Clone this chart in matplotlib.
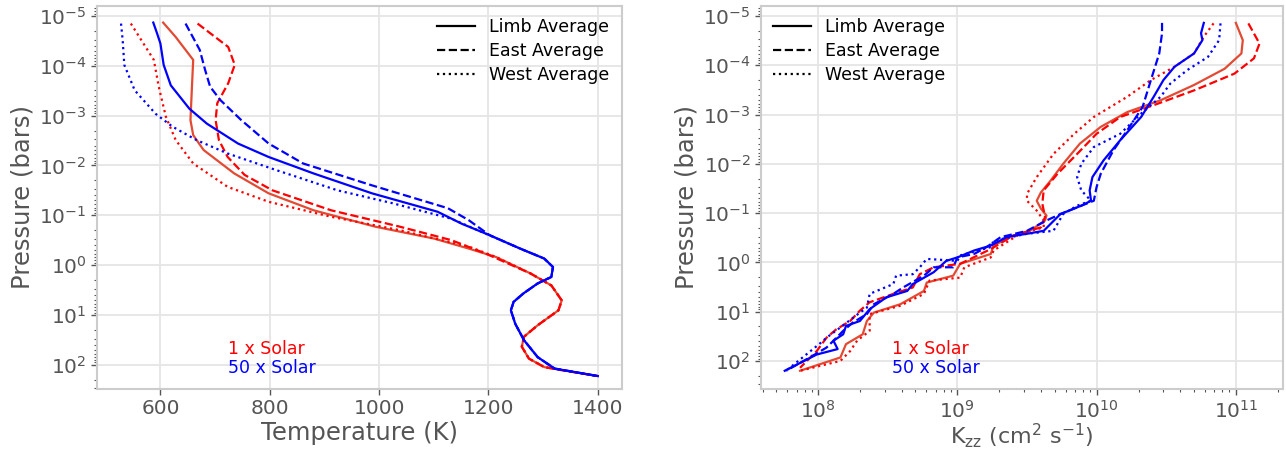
import numpy as np
import matplotlib
matplotlib.use("Agg")
from matplotlib import pyplot as plt
from matplotlib.lines import Line2D

###################################################################################################
# Data, pressures as log10(bar)
###################################################################################################
# --- temperature profiles ---
# deep parts are shared by limb / east / west
t1_deep = [1214, 1277, 1315, 1334, 1328, 1290, 1265, 1261, 1274, 1302, 1328, 1400]
p1_deep = [-0.16, 0.17, 0.41, 0.71, 0.91, 1.21, 1.44, 1.64, 1.88, 2.05, 2.10, 2.23]
t50_deep = [1202, 1258, 1302, 1318, 1315, 1290, 1264, 1246, 1241, 1249, 1265, 1290, 1321, 1400]
p50_deep = [-0.60, -0.33, -0.13, 0.04, 0.24, 0.37, 0.57, 0.74, 0.91, 1.18, 1.51, 1.85, 2.08, 2.23]

t1_limb = [605, 628, 660, 658, 655, 660, 679, 735, 798, 880, 993, 1101, 1164]
p1_limb = [-4.87, -4.58, -4.12, -3.65, -2.91, -2.61, -2.31, -1.84, -1.44, -1.10, -0.77, -0.53, -0.33]
t1_east = [668, 724, 736, 724, 704, 701, 707, 723, 754, 805, 912, 1038, 1132, 1195]
p1_east = [-4.85, -4.38, -4.02, -3.65, -3.25, -2.91, -2.51, -2.17, -1.81, -1.50, -1.10, -0.77, -0.50, -0.23]
t1_west = [546, 569, 588, 597, 610, 628, 660, 723, 798, 912, 1038, 1164]
p1_west = [-4.85, -4.45, -4.12, -3.58, -2.98, -2.51, -2.04, -1.57, -1.27, -0.97, -0.70, -0.37]

t50_limb = [587, 594, 600, 606, 619, 653, 685, 742, 798, 880, 987, 1107, 1151]
p50_limb = [-4.87, -4.65, -4.45, -4.02, -3.61, -3.14, -2.84, -2.44, -2.17, -1.84, -1.44, -1.07, -0.83]
t50_east = [646, 672, 682, 691, 710, 748, 798, 861, 987, 1126, 1164]
p50_east = [-4.85, -4.32, -3.91, -3.58, -3.31, -2.91, -2.44, -2.04, -1.60, -1.14, -0.90]
t50_west = [528, 531, 534, 553, 591, 622, 666, 723, 811, 924, 1025, 1132]
p50_west = [-4.85, -4.52, -4.02, -3.51, -3.04, -2.78, -2.51, -2.24, -1.91, -1.50, -1.24, -0.93]

# --- Kzz profiles, log10(cm2/s) ---
k1_limb = [11.00, 11.05, 11.04, 10.92, 10.70, 10.46, 10.22, 10.03, 9.88, 9.76, 9.67, 9.60, 9.57, 9.60,
           9.64, 9.63, 9.52, 9.40, 9.26, 9.24, 9.02, 8.97, 8.78, 8.76, 8.59, 8.40, 8.35, 8.32, 8.20, 8.16, 7.87]
kp1_limb = [-4.86, -4.51, -4.24, -3.93, -3.60, -3.29, -3.05, -2.75, -2.41, -2.00, -1.66, -1.42, -1.25, -1.09,
            -0.95, -0.85, -0.64, -0.54, -0.34, -0.17, 0.03, 0.27, 0.41, 0.58, 0.85, 1.02, 1.19, 1.46, 1.66, 1.93, 2.20]
k1_east = [11.09, 11.17, 11.13, 10.99, 10.70, 10.41, 10.17, 10.00, 9.86, 9.72, 9.62, 9.61, 9.63, 9.60,
           9.40, 9.24, 9.02, 8.83, 8.73, 8.68, 8.54, 8.37, 8.30, 8.23, 8.13, 8.06, 7.99, 7.87]
kp1_east = [-4.85, -4.44, -4.14, -3.83, -3.49, -3.19, -2.95, -2.61, -2.20, -1.80, -1.46, -1.19, -0.92, -0.71,
            -0.54, -0.27, 0.03, 0.10, 0.24, 0.51, 0.64, 0.81, 0.98, 1.19, 1.36, 1.53, 1.80, 2.14]
k1_west = [10.84, 10.77, 10.70, 10.56, 10.39, 10.22, 9.98, 9.84, 9.69, 9.57, 9.50, 9.50, 9.57, 9.62, 9.62,
           9.45, 9.26, 9.24, 9.05, 9.02, 8.80, 8.76, 8.59, 8.37, 8.37, 8.28, 8.23, 8.16, 7.87]
kp1_west = [-4.85, -4.58, -4.24, -3.97, -3.70, -3.36, -2.95, -2.61, -2.20, -1.73, -1.39, -1.25, -1.05, -0.85, -0.71,
            -0.58, -0.24, -0.10, 0.10, 0.31, 0.37, 0.64, 0.88, 1.05, 1.39, 1.59, 1.80, 2.00, 2.20]

k50_limb = [10.77, 10.75, 10.76, 10.70, 10.56, 10.48, 10.41, 10.32, 10.17, 10.05, 9.97, 9.95, 9.96, 9.89, 9.74,
            9.62, 9.50, 9.36, 9.24, 9.12, 9.00, 8.92, 8.83, 8.68, 8.64, 8.49, 8.37, 8.30, 8.20, 8.18, 8.11, 8.14,
            7.99, 7.76]
kp50_limb = [-4.86, -4.65, -4.51, -4.24, -3.97, -3.70, -3.36, -2.95, -2.48, -2.07, -1.73, -1.46, -1.25, -1.15, -0.98,
             -0.64, -0.58, -0.52, -0.34, -0.24, -0.10, -0.03, 0.20, 0.44, 0.58, 0.71, 0.95, 1.19, 1.29, 1.46, 1.59, 1.76,
             1.87, 2.20]
k50_east = [10.47, 10.47, 10.45, 10.39, 10.33, 10.22, 10.12, 10.03, 10.00, 9.98, 9.89, 9.74, 9.64, 9.50, 9.31,
            9.21, 9.12, 9.00, 8.97, 8.83, 8.76, 8.61, 8.54, 8.40, 8.35, 8.25, 8.18, 8.11, 8.06, 7.94, 7.77]
kp50_east = [-4.86, -4.65, -4.24, -3.70, -3.15, -2.68, -2.27, -1.80, -1.53, -1.25, -1.15, -0.98, -0.85, -0.64, -0.51,
             -0.31, -0.17, -0.10, 0.10, 0.10, 0.27, 0.51, 0.64, 0.85, 1.05, 1.22, 1.39, 1.59, 1.73, 1.93, 2.20]
k50_west = [10.89, 10.88, 10.80, 10.65, 10.53, 10.46, 10.32, 10.17, 9.98, 9.89, 9.86, 9.89, 9.96, 9.86, 9.76,
            9.69, 9.50, 9.26, 9.24, 9.02, 9.00, 8.78, 8.73, 8.68, 8.56, 8.54, 8.37, 8.35, 8.30, 8.16, 8.06, 8.02, 7.77]
kp50_west = [-4.85, -4.51, -4.17, -3.90, -3.63, -3.36, -3.02, -2.61, -2.34, -2.00, -1.73, -1.46, -1.25, -1.15, -0.98,
             -0.64, -0.58, -0.44, -0.31, -0.14, -0.03, -0.07, 0.10, 0.24, 0.27, 0.44, 0.64, 0.92, 1.02, 1.32, 1.53, 1.63,
             2.20]

RED_LIMB = '#E24A33'
RED = '#ff0000'
BLUE = '#0000ff'
GRAY = '#555555'
LW = 1.6

###################################################################################################
# Plot
###################################################################################################
plt.rcParams['font.family'] = ['DejaVu Sans']
plt.rcParams['mathtext.fontset'] = 'dejavusans'

fig = plt.figure(figsize=(12.86, 4.51), dpi=100)
axT = fig.add_axes([0.0754, 0.1375, 0.408, 0.85])
axK = fig.add_axes([0.5918, 0.1375, 0.406, 0.85])

def P(lst):
    return 10.0 ** np.asarray(lst)

# temperature
axT.plot(t1_limb + t1_deep, P(p1_limb + p1_deep), color=RED_LIMB, ls='-', lw=LW)
axT.plot(t1_east + t1_deep[1:], P(p1_east + p1_deep[1:]), color=RED, ls='--', lw=LW)
axT.plot(t1_west + t1_deep, P(p1_west + p1_deep), color=RED, ls=':', lw=LW)
axT.plot(t50_limb + t50_deep, P(p50_limb + p50_deep), color=BLUE, ls='-', lw=LW)
axT.plot(t50_east + t50_deep, P(p50_east + p50_deep), color=BLUE, ls='--', lw=LW)
axT.plot(t50_west + t50_deep[1:], P(p50_west + p50_deep[1:]), color=BLUE, ls=':', lw=LW)

# Kzz
axK.plot(P(k1_limb), P(kp1_limb), color=RED_LIMB, ls='-', lw=LW)
axK.plot(P(k1_east), P(kp1_east), color=RED, ls='--', lw=LW)
axK.plot(P(k1_west), P(kp1_west), color=RED, ls=':', lw=LW)
axK.plot(P(k50_limb), P(kp50_limb), color=BLUE, ls='-', lw=LW)
axK.plot(P(k50_east), P(kp50_east), color=BLUE, ls='--', lw=LW)
axK.plot(P(k50_west), P(kp50_west), color=BLUE, ls=':', lw=LW)

axK.set_xscale('log')
axT.set_xlim(484, 1443.6)
axK.set_xlim(10 ** 7.59, 10 ** 11.34)

for ax, ylo in ((axT, 2.49), (axK, 2.57)):
    ax.set_yscale('log')
    ax.set_ylim(10 ** ylo, 10 ** -5.21)
    ax.set_yticks(P([-5, -4, -3, -2, -1, 0, 1, 2]))
    ax.grid(True, which='major', color='#e5e5e5', lw=1.3)
    ax.set_axisbelow(True)
    for s in ax.spines.values():
        s.set_color('#cccccc')
        s.set_linewidth(1.5)
    ax.tick_params(which='major', labelsize=14.5, labelcolor=GRAY, color=GRAY, length=4, width=1)
    ax.tick_params(which='minor', color=GRAY, length=2, width=0.8)
    ax.set_ylabel('Pressure (bars)', fontsize=17.5, color=GRAY, labelpad=3)
    handles = [Line2D([], [], color='k', ls='-', lw=LW),
               Line2D([], [], color='k', ls='--', lw=LW),
               Line2D([], [], color='k', ls=':', lw=LW)]
    ax.legend(handles, ['Limb Average', 'East Average', 'West Average'],
              loc='upper right' if ax is axT else 'upper left', frameon=False, fontsize=12.5,
              borderaxespad=0.3, handlelength=2.2, labelspacing=0.35)
    ax.text(0.25, 0.105, '1 x Solar', color=RED, fontsize=12.5, transform=ax.transAxes, va='center')
    ax.text(0.25, 0.056, '50 x Solar', color=BLUE, fontsize=12.5, transform=ax.transAxes, va='center')

axT.set_xticks([600, 800, 1000, 1200, 1400])
axT.set_xlabel('Temperature (K)', fontsize=17.5, color=GRAY, labelpad=2)
axK.set_xlabel(r'K$_{\rm zz}$ (cm$^2$ s$^{-1}$)', fontsize=16, color=GRAY, labelpad=0)

fig.savefig('out.png', dpi=100)
